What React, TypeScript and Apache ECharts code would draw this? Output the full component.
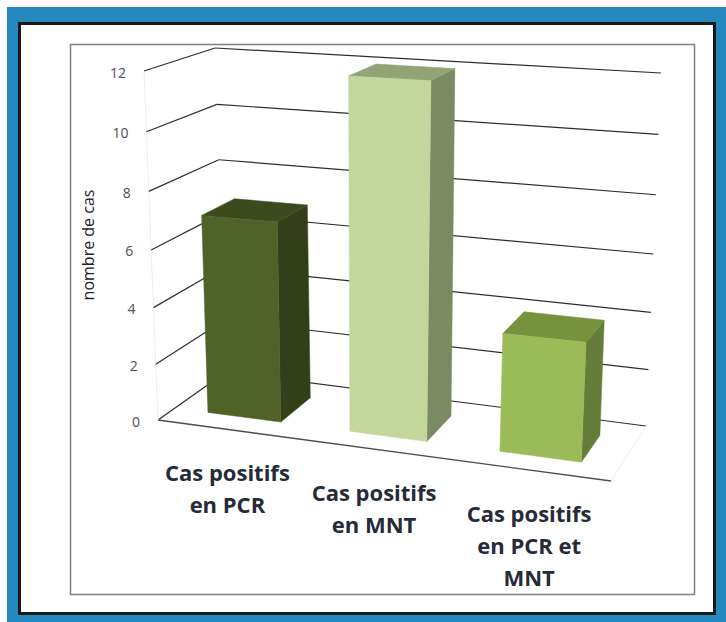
import React, { useEffect, useRef } from "react";
import * as echarts from "echarts";

const WIDTH = 726;
const HEIGHT = 622;

// Data
const categories = ["Cas positifs\nen PCR", "Cas positifs\nen MNT", "Cas positifs\nen PCR et\nMNT"];
const cases = [7, 12, 4];
const tickValues = [0, 2, 4, 6, 8, 10, 12];
const axisTitle = "nombre de cas";

// Face colours per bar
const frontColors = ["#4F6228", "#C3D69B", "#9BBB59"];
const sideColors = ["#333F18", "#7C8A62", "#667D39"];
const topColors = ["#3C4A1D", "#92A375", "#76923C"];

// Corners of the 3D plot box on screen, [top, bottom] of each vertical edge
const FRONT_LEFT = [[144, 71], [158, 420]];
const BACK_LEFT = [[215, 48], [226, 372]];
const BACK_RIGHT = [[661, 73], [646, 426]];
const FRONT_RIGHT = [[629, 99], [611, 481]];

// Depth positions of a bar's front and back faces (0 = front of the floor, 1 = back wall)
const BAR_FRONT = 0.25;
const BAR_BACK = 0.74;
const BAR_RATIO = 0.52;

const mix = (a: number, b: number, t: number) => a + (b - a) * t;
// Foreshortening along the width and the height of the box
const warp = (t: number, b: number) => ((1 + b) * t) / (1 + b * t);

// u: 0..1 across the categories, d: 0..1 into the depth, h: 0..1 up the value axis
function project(u: number, d: number, h: number): number[] {
  const uu = warp(u, -0.08);
  const hh = warp(h, -0.05);
  const at = (edge: number[][], k: number) => mix(edge[1][k], edge[0][k], hh);
  return [0, 1].map((k) => {
    const front = mix(at(FRONT_LEFT, k), at(FRONT_RIGHT, k), uu);
    const back = mix(at(BACK_LEFT, k), at(BACK_RIGHT, k), uu);
    return mix(front, back, d);
  });
}

const segment = (a: number[], b: number[], stroke: string, lineWidth = 1.2) => ({
  type: "line",
  shape: { x1: a[0], y1: a[1], x2: b[0], y2: b[1] },
  style: { stroke, lineWidth },
});

const face = (points: number[][], fill: string) => ({
  type: "polygon",
  shape: { points },
  style: { fill, stroke: fill, lineWidth: 0.5 },
});

function renderGridLine(params: any, api: any) {
  const box = params.coordSys;
  const value = api.value(0);
  const h = (box.y + box.height - api.coord([0, value])[1]) / box.height;
  const frontLeft = project(0, 0, h);
  const backLeft = project(0, 1, h);
  const backRight = project(1, 1, h);
  const children: any[] = [
    segment(frontLeft, backLeft, "#2e2e2e"),
    segment(backLeft, backRight, "#2e2e2e"),
    {
      type: "text",
      style: {
        text: String(value),
        x: frontLeft[0] - 18,
        y: frontLeft[1] + 1,
        align: "right",
        verticalAlign: "middle",
        font: "14px 'Open Sans'",
        fill: "#4a5058",
      },
    },
  ];
  if (value === 0) {
    children.push(
      segment(frontLeft, project(1, 0, 0), "#4d4d4d", 1.4),
      segment(project(1, 0, 0), project(1, 1, 0), "#eeeeee", 1),
      segment(frontLeft, project(0, 0, 1), "#eeeeee", 1),
    );
  }
  return { type: "group", children };
}

function renderBar(params: any, api: any) {
  const box = params.coordSys;
  const index = api.value(0);
  const center = api.coord([index, 0])[0];
  const band = api.size([1, 0])[0];
  const h = (box.y + box.height - api.coord([index, api.value(1)])[1]) / box.height;
  const u0 = (center - (band * BAR_RATIO) / 2 - box.x) / box.width;
  const u1 = (center + (band * BAR_RATIO) / 2 - box.x) / box.width;
  const p = (u: number, d: number, t: number) => project(u, d, t);
  return {
    type: "group",
    children: [
      face([p(u1, BAR_FRONT, 0), p(u1, BAR_BACK, 0), p(u1, BAR_BACK, h), p(u1, BAR_FRONT, h)], sideColors[index]),
      face([p(u0, BAR_FRONT, h), p(u1, BAR_FRONT, h), p(u1, BAR_BACK, h), p(u0, BAR_BACK, h)], topColors[index]),
      face([p(u0, BAR_FRONT, 0), p(u1, BAR_FRONT, 0), p(u1, BAR_FRONT, h), p(u0, BAR_FRONT, h)], frontColors[index]),
    ],
  };
}

function renderCategoryLabel(params: any, api: any) {
  const box = params.coordSys;
  const index = api.value(0);
  const u = (api.coord([index, 0])[0] - box.x) / box.width;
  const anchor = project(u, 0, 0);
  return {
    type: "text",
    style: {
      text: categories[index],
      x: anchor[0] - 1,
      y: anchor[1] + 27,
      align: "center",
      verticalAlign: "top",
      font: "bold 22px 'Open Sans'",
      lineHeight: 32,
      fill: "#252b38",
    },
  };
}

function buildOption() {
  return {
    animation: false,
    backgroundColor: "#ffffff",
    grid: { left: 100, top: 100, width: 500, height: 400 },
    xAxis: { type: "category", data: categories, show: false },
    yAxis: { type: "value", min: 0, max: 12, interval: 2, show: false },
    graphic: [
      { type: "rect", z: -3, shape: { x: 7, y: 7, width: 719, height: 615 }, style: { fill: "#2589BD" } },
      {
        type: "rect",
        z: -2,
        shape: { x: 19.5, y: 23.5, width: 695, height: 590 },
        style: { fill: "#ffffff", stroke: "#15191c", lineWidth: 3 },
      },
      {
        type: "rect",
        z: -1,
        shape: { x: 70.5, y: 44.5, width: 624, height: 550 },
        style: { fill: "#ffffff", stroke: "#808080", lineWidth: 1.5 },
      },
      {
        type: "text",
        x: 88,
        y: 245,
        rotation: Math.PI / 2,
        style: {
          text: axisTitle,
          align: "center",
          verticalAlign: "middle",
          font: "16px 'Open Sans'",
          fill: "#222222",
        },
      },
    ],
    series: [
      { type: "custom", z: 2, data: tickValues.map((v) => [v]), encode: { y: 0 }, renderItem: renderGridLine },
      { type: "custom", z: 3, data: cases.map((v, i) => [i, v]), encode: { x: 0, y: 1 }, renderItem: renderBar },
      { type: "custom", z: 4, data: categories.map((_, i) => [i, 0]), encode: { x: 0, y: 1 }, renderItem: renderCategoryLabel },
    ],
  };
}

export default function App() {
  const ref = useRef<HTMLDivElement>(null);
  useEffect(() => {
    const chart = echarts.init(ref.current, undefined, { renderer: "svg" });
    chart.setOption(buildOption() as any);
    return () => chart.dispose();
  }, []);
  return <div ref={ref} style={{ position: "absolute", left: 0, top: 0, width: WIDTH, height: HEIGHT }} />;
}
